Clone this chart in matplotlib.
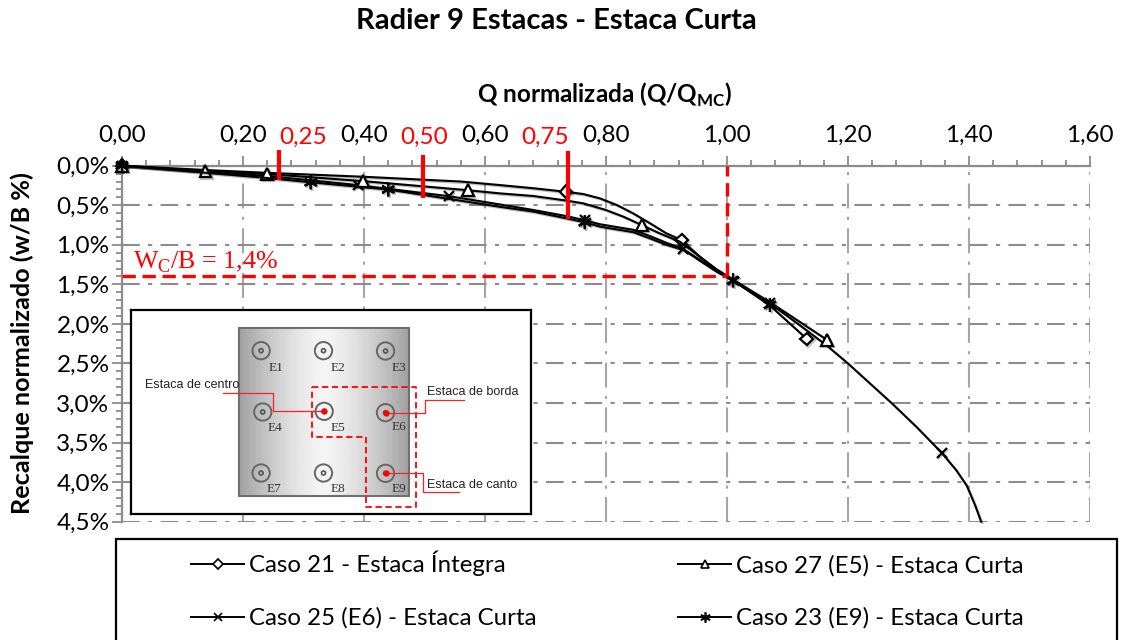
import numpy as np
import matplotlib
matplotlib.use('Agg')
import matplotlib.pyplot as plt
import matplotlib.patheffects as pe
from matplotlib.lines import Line2D
from matplotlib.patches import Rectangle, Circle

plt.rcParams['font.family'] = ['Lato', 'DejaVu Sans']
plt.rcParams['mathtext.fontset'] = 'custom'
plt.rcParams['mathtext.rm'] = 'Liberation Serif'
plt.rcParams['mathtext.bf'] = 'Lato:bold'

W, H = 1121, 640

# curvas (Q/Qmc, w/B %), marks = indices com marcador
x_21 = [0, 0.14, 0.24, 0.40, 0.48, 0.56, 0.625, 0.68, 0.734, 0.7625, 0.79, 0.818, 0.845, 0.873, 0.90, 0.925, 0.955, 0.983, 1.01, 1.07, 1.132]
y_21 = [0, 0.055, 0.09, 0.14, 0.17, 0.20, 0.245, 0.285, 0.33, 0.358, 0.413, 0.497, 0.603, 0.729, 0.856, 0.94, 1.15, 1.32, 1.446, 1.76, 2.19]
marks_21 = [0, 8, 15, 20]

x_27 = [0, 0.138, 0.24, 0.399, 0.572, 0.625, 0.68, 0.734, 0.7625, 0.80, 0.829, 0.859, 0.889, 0.922, 0.955, 0.983, 1.01, 1.07, 1.165]
y_27 = [0, 0.07, 0.105, 0.195, 0.31, 0.35, 0.383, 0.44, 0.476, 0.56, 0.645, 0.75, 0.856, 0.96, 1.15, 1.31, 1.44, 1.72, 2.2]
marks_27 = [0, 1, 2, 3, 4, 11, 18]

x_25 = [0, 0.14, 0.24, 0.39, 0.54, 0.625, 0.68, 0.734, 0.765, 0.79, 0.845, 0.873, 0.90, 0.927, 0.955, 0.983, 1.01, 1.071, 1.121, 1.166, 1.20, 1.236, 1.272, 1.313, 1.355, 1.379, 1.396, 1.41, 1.42]
y_25 = [0, 0.08, 0.13, 0.245, 0.385, 0.49, 0.56, 0.636, 0.69, 0.74, 0.81, 0.89, 0.975, 1.05, 1.19, 1.33, 1.45, 1.74, 2.02, 2.28, 2.50, 2.75, 3.00, 3.30, 3.63, 3.85, 4.04, 4.29, 4.50]
marks_25 = [0, 3, 4, 8, 13, 16, 17, 24]

x_23 = [0, 0.14, 0.24, 0.312, 0.44, 0.625, 0.68, 0.734, 0.765, 0.79, 0.845, 0.873, 0.90, 0.93, 0.955, 0.983, 1.01, 1.071]
y_23 = [0, 0.09, 0.155, 0.21, 0.30, 0.52, 0.58, 0.665, 0.715, 0.77, 0.84, 0.92, 1.0, 1.07, 1.20, 1.34, 1.45, 1.76]
marks_23 = [0, 3, 4, 8, 16, 17]

x_ticks = [0, 0.2, 0.4, 0.6, 0.8, 1.0, 1.2, 1.4, 1.6]
x_labels = ['0,00', '0,20', '0,40', '0,60', '0,80', '1,00', '1,20', '1,40', '1,60']
y_ticks = [0, 0.5, 1, 1.5, 2, 2.5, 3, 3.5, 4, 4.5]
y_labels = ['0,0%', '0,5%', '1,0%', '1,5%', '2,0%', '2,5%', '3,0%', '3,5%', '4,0%', '4,5%']

# marcas vermelhas de carga
load_x = [0.259, 0.4975, 0.737]
load_top = [-0.20, -0.13, -0.18]
load_bot = [0.18, 0.41, 0.67]
load_labels = ['0,25', '0,50', '0,75']
load_label_x = [0.299, 0.50, 0.70]
wc_y = 1.40

fig = plt.figure(figsize=(W / 100, H / 100), dpi=100)
ax = fig.add_axes([122 / W, 1 - 521.7 / H, (1090 - 122) / W, (521.7 - 165.7) / H])
ax.set_xlim(0, 1.6)
ax.set_ylim(4.5, 0)

ax.xaxis.tick_top()
ax.set_xticks(x_ticks)
ax.set_xticklabels(x_labels)
ax.set_yticks(y_ticks)
ax.set_yticklabels(y_labels)
ax.set_xticks(np.arange(0, 1.601, 0.04), minor=True)
ax.set_yticks(np.arange(0, 4.501, 0.1), minor=True)
ax.tick_params(which='major', length=7, width=1.3, color='#8c8c8c', labelsize=17.5)
ax.tick_params(which='minor', length=4.5, width=1.3, color='#8c8c8c')
ax.tick_params(axis='x', which='major', pad=7)
ax.tick_params(axis='y', which='major', pad=2)
ax.tick_params(axis='x', which='both', top=True, bottom=False)
ax.xaxis.grid(True, which='major', color='#a6a6a6', lw=1.5, ls=(0, (12, 4, 1.5, 4)))
ax.yaxis.grid(True, which='major', color='#8c8c8c', lw=1.5, ls=(0, (8.5, 4, 2, 4)))
ax.set_axisbelow(True)
for s in ['right', 'bottom']:
    ax.spines[s].set_visible(False)
for s in ['top', 'left']:
    ax.spines[s].set_color('#8c8c8c')
    ax.spines[s].set_linewidth(1.6)

shadow = [pe.SimpleLineShadow(offset=(1, -1), alpha=0.25, shadow_color='k'), pe.Normal()]
series = [
    (x_21, y_21, marks_21, 'D', 6.5, 'Caso 21 - Estaca Íntegra'),
    (x_25, y_25, marks_25, 'x', 7, 'Caso 25 (E6) - Estaca Curta'),
    (x_27, y_27, marks_27, '^', 8.5, 'Caso 27 (E5) - Estaca Curta'),
    (x_23, y_23, marks_23, (6, 2, 0), 10, 'Caso 23 (E9) - Estaca Curta'),
]
for xs, ys, marks, m, ms, lab in series:
    ax.plot(xs, ys, color='k', lw=1.5, marker=m, ms=ms, mfc='white', mec='k', mew=1.6,
            markevery=marks, clip_on=False, path_effects=shadow, zorder=3)

# referencias vermelhas
for lx, t, b, lab, tx in zip(load_x, load_top, load_bot, load_labels, load_label_x):
    ax.plot([lx, lx], [t, b], color='#ff0000', lw=3, clip_on=False, solid_capstyle='butt', zorder=5)
    ax.annotate(lab, (tx, 0), xytext=(0, 28), textcoords='offset pixels', ha='center', va='center',
                color='#ff0000', fontsize=17.5)
ax.plot([0, 1.0], [wc_y, wc_y], color='#ff0000', lw=2.4, ls=(0, (4, 2)), zorder=5)
ax.plot([1.0, 1.0], [wc_y, 0], color='#ff0000', lw=2.4, ls=(0, (4, 2)), zorder=5)

fig.text(556.5 / W, 1 - 21 / H, 'Radier 9 Estacas - Estaca Curta', fontsize=21, fontweight='bold', ha='center', va='center')
fig.text(605 / W, 1 - 95 / H, r'Q normalizada (Q/Q$_{\mathbf{MC}}$)', fontsize=17.5, fontweight='bold', ha='center', va='center')
fig.text(22 / W, 1 - 343 / H, 'Recalque normalizado (w/B %)', fontsize=18.2, fontweight='bold', rotation=90, ha='center', va='center')
fig.text(133 / W, 1 - 262 / H, r'W$_{\mathrm{C}}$/B = 1,4%', color='#ff0000', fontsize=18.7,
         family='Liberation Serif', ha='left', va='center')

# detalhe da planta do radier
pile_x = [423, 610, 796, 428, 612, 796, 423, 610, 796]
pile_y = [152, 152, 153, 336, 334, 338, 519, 519, 520]
pile_names = ['E1', 'E2', 'E3', 'E4', 'E5', 'E6', 'E7', 'E8', 'E9']
name_x = [468, 653, 836, 465, 653, 835, 462, 653, 836]
name_y = [205, 205, 205, 385, 385, 382, 568, 568, 568]
red_piles = [4, 5, 8]
group_x = [575, 887, 887, 737, 737, 575, 575]
group_y = [260, 260, 620, 620, 410, 410, 260]
leaders = [
    ([310, 460, 460, 612], [280, 280, 333, 333]),
    ([796, 915, 915, 1030], [340, 340, 300, 300]),
    ([796, 908, 908, 1015], [520, 520, 577, 577]),
]
notes = [(75, 255, 'Estaca de centro'), (920, 277, 'Estaca de borda'), (920, 555, 'Estaca de canto')]

ins = fig.add_axes([131 / W, 1 - 514 / H, 400 / W, 204 / H], zorder=6)
grad = 1 - 0.33 * np.abs(np.linspace(-1, 1, 200)) ** 1.4 - 0.04
ins.imshow(grad[None, :], cmap='gray', vmin=0, vmax=1, extent=(357, 866, 588, 85), aspect='auto')
ins.add_patch(Rectangle((357, 85), 509, 503, fill=False, ec='#707070', lw=1.5))
for px, py in zip(pile_x, pile_y):
    ins.add_patch(Circle((px, py), 26, fill=False, ec='#666666', lw=1.4))
    ins.add_patch(Circle((px, py), 6, fill=False, ec='#555555', lw=1.2))
for nm, nx, ny in zip(pile_names, name_x, name_y):
    ins.text(nx, ny, nm, family='Liberation Serif', fontsize=9.5, color='#333333', ha='center', va='center')
ins.plot(group_x, group_y, color='#ff0000', lw=1.3, ls=(0, (3.5, 2)))
for lx, ly in leaders:
    ins.plot(lx, ly, color='#ff2020', lw=0.9)
for i in red_piles:
    ins.plot(pile_x[i], pile_y[i], 'o', color='#ff0000', ms=3.5)
for nx, ny, txt in notes:
    ins.text(nx, ny, txt, family='Liberation Sans', fontsize=9, color='#222222', ha='left', va='center')
ins.set_xlim(33, 1232)
ins.set_ylim(642, 30)
ins.set_xticks([])
ins.set_yticks([])
for s in ins.spines.values():
    s.set_linewidth(1.6)
    s.set_color('k')

# caixa da legenda, cortada pela borda inferior
fig.add_artist(Rectangle((116 / W, -0.02), 1001 / W, 1 - 539 / H + 0.02, transform=fig.transFigure,
                         fill=False, ec='k', lw=1.6))
handles = [Line2D([], [], color='k', lw=1.4, marker=m, ms=ms * 0.75, mfc='white', mec='k', mew=1.2, label=lab)
           for xs, ys, marks, m, ms, lab in series]
fig.legend(handles=handles, ncol=2, frameon=False, fontsize=17.3, loc='upper left',
           bbox_to_anchor=(184 / W, 1 - 543.5 / H), handlelength=2.2, handletextpad=0.2,
           columnspacing=5.9, labelspacing=1.3, borderpad=0.3, borderaxespad=0)

fig.savefig('out.png', dpi=100)
